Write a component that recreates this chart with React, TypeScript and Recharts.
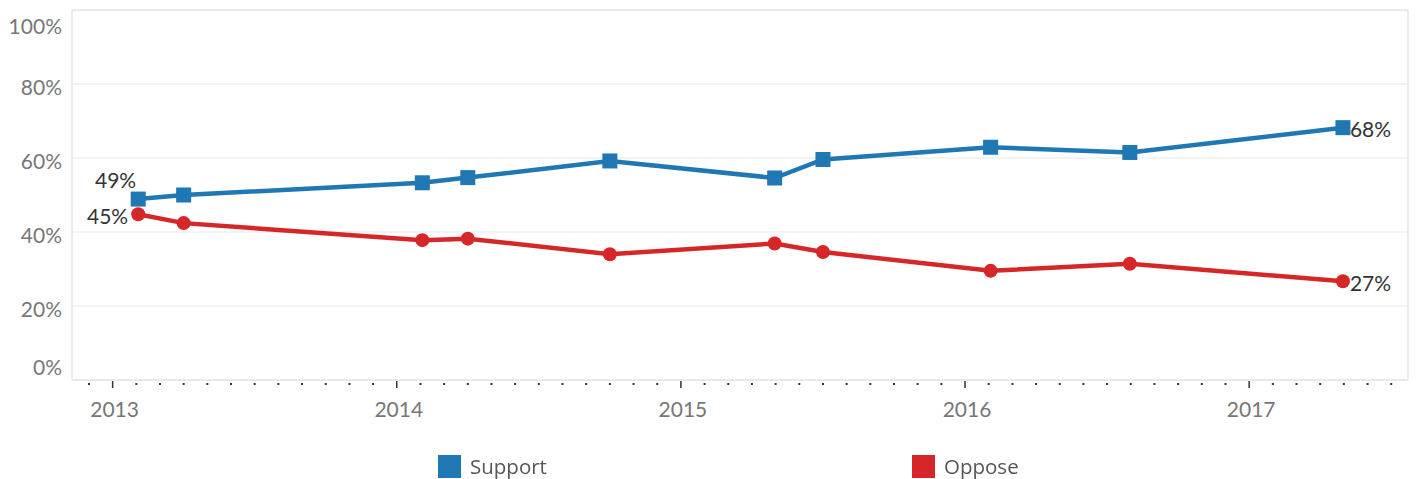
import React from 'react';
import {
  LineChart,
  Line,
  XAxis,
  YAxis,
  CartesianGrid,
  ReferenceArea,
  LabelList,
} from 'recharts';

// survey dates as fractional years
const dates = [2013.09, 2013.25, 2014.09, 2014.25, 2014.75, 2015.33, 2015.5, 2016.09, 2016.58, 2017.33];
const support = [48.9, 50.0, 53.3, 54.7, 59.2, 54.6, 59.6, 62.9, 61.5, 68.2];
const oppose = [44.8, 42.4, 37.8, 38.2, 34.0, 36.9, 34.6, 29.5, 31.4, 26.7];

const yearTicks = [2013, 2014, 2015, 2016, 2017];
const percentTicks = [0, 20, 40, 60, 80, 100];

const BLUE = '#1f77b4';
const RED = '#d62728';
const FONT = 'Lato, "Open Sans", sans-serif';

const X_DOMAIN: [number, number] = [2012.857, 2017.559];

// monthly minor ticks around the year ticks
const monthTicks = Array.from({ length: 56 }, (_, i) => yearTicks[0] + (i - 1) / 12).filter(
  (v) => v >= X_DOMAIN[0] && v <= X_DOMAIN[1]
);

const data = dates.map((d, i) => ({ date: d, support: support[i], oppose: oppose[i] }));

const isYear = (v: number) => Math.abs(v - Math.round(v)) < 1e-6;

const XTick = (props: any) => {
  const { x, y, payload } = props;
  const v = payload.value as number;
  if (isYear(v)) {
    return (
      <g>
        <line x1={x} x2={x} y1={y + 1} y2={y + 8} stroke="#333" strokeWidth={1.5} />
        <text x={x + 2} y={y + 28} textAnchor="middle" dominantBaseline="central" fill="#777" fontSize={21} fontFamily={FONT}>
          {Math.round(v)}
        </text>
      </g>
    );
  }
  return <rect x={x - 1} y={y + 3} width={2} height={2} fill="#333" />;
};

const YTick = (props: any) => {
  const { x, y, payload } = props;
  const v = payload.value as number;
  let dy = 2.5;
  if (v === 100) dy = 15;
  if (v === 0) dy = -13.5;
  return (
    <text x={x} y={y + dy} textAnchor="end" dominantBaseline="central" fill="#777" fontSize={21} fontFamily={FONT}>
      {v}%
    </text>
  );
};

const SquareDot = (props: any) => {
  const { cx, cy, index } = props;
  if (cx == null || cy == null) return null;
  return <rect key={`sq-${index}`} x={cx - 7.5} y={cy - 7.5} width={15} height={15} fill={BLUE} />;
};

const CircleDot = (props: any) => {
  const { cx, cy, index } = props;
  if (cx == null || cy == null) return null;
  return <circle key={`ci-${index}`} cx={cx} cy={cy} r={7} fill={RED} />;
};

const makeEndLabel = (firstDx: number, firstDy: number) => (props: any) => {
  const { x, y, value, index } = props;
  const last = dates.length - 1;
  if (index !== 0 && index !== last) return null;
  const text = `${Math.round(value)}%`;
  if (index === 0) {
    return (
      <text x={x + firstDx} y={y + firstDy} textAnchor="end" dominantBaseline="central" fill="#333" fontSize={21} fontFamily={FONT}>
        {text}
      </text>
    );
  }
  return (
    <text x={x + 7} y={y + 1} textAnchor="start" dominantBaseline="central" fill="#333" fontSize={21} fontFamily={FONT}>
      {text}
    </text>
  );
};

const LegendItem = ({ color, label, left }: { color: string; label: string; left: number }) => (
  <div style={{ position: 'absolute', left, top: 452, display: 'flex', alignItems: 'center' }}>
    <div style={{ width: 23, height: 23, background: color }} />
    <span style={{ marginLeft: 9, fontSize: 20.5, color: '#555', fontFamily: '"Open Sans", sans-serif' }}>{label}</span>
  </div>
);

export default function App() {
  return (
    <div style={{ position: 'fixed', left: 0, top: 0, width: 1417, height: 479, background: '#fff' }}>
      <LineChart width={1417} height={440} data={data} margin={{ top: 10, right: 9, bottom: 0, left: 0 }}>
        <CartesianGrid vertical={false} stroke="#efefef" strokeWidth={1.5} />
        <ReferenceArea x1={X_DOMAIN[0]} x2={X_DOMAIN[1]} y1={0} y2={100} fill="none" stroke="#e6e6e6" strokeWidth={1.5} ifOverflow="extendDomain" />
        <XAxis
          type="number"
          dataKey="date"
          domain={X_DOMAIN}
          ticks={monthTicks}
          allowDataOverflow
          axisLine={false}
          tickLine={false}
          tickSize={0}
          tickMargin={0}
          height={60}
          interval={0}
          tick={<XTick />}
        />
        <YAxis
          type="number"
          domain={[0, 100]}
          ticks={percentTicks}
          axisLine={false}
          tickLine={false}
          tickSize={10}
          tickMargin={0}
          width={72}
          interval={0}
          tick={<YTick />}
        />
        <Line
          type="linear"
          dataKey="support"
          stroke={BLUE}
          strokeWidth={4.5}
          dot={<SquareDot />}
          activeDot={false}
          isAnimationActive={false}
        >
          <LabelList dataKey="support" content={makeEndLabel(-2, -20)} />
        </Line>
        <Line
          type="linear"
          dataKey="oppose"
          stroke={RED}
          strokeWidth={4.5}
          dot={<CircleDot />}
          activeDot={false}
          isAnimationActive={false}
        >
          <LabelList dataKey="oppose" content={makeEndLabel(-10, 1)} />
        </Line>
      </LineChart>
      <LegendItem color={BLUE} label="Support" left={438} />
      <LegendItem color={RED} label="Oppose" left={912} />
    </div>
  );
}
